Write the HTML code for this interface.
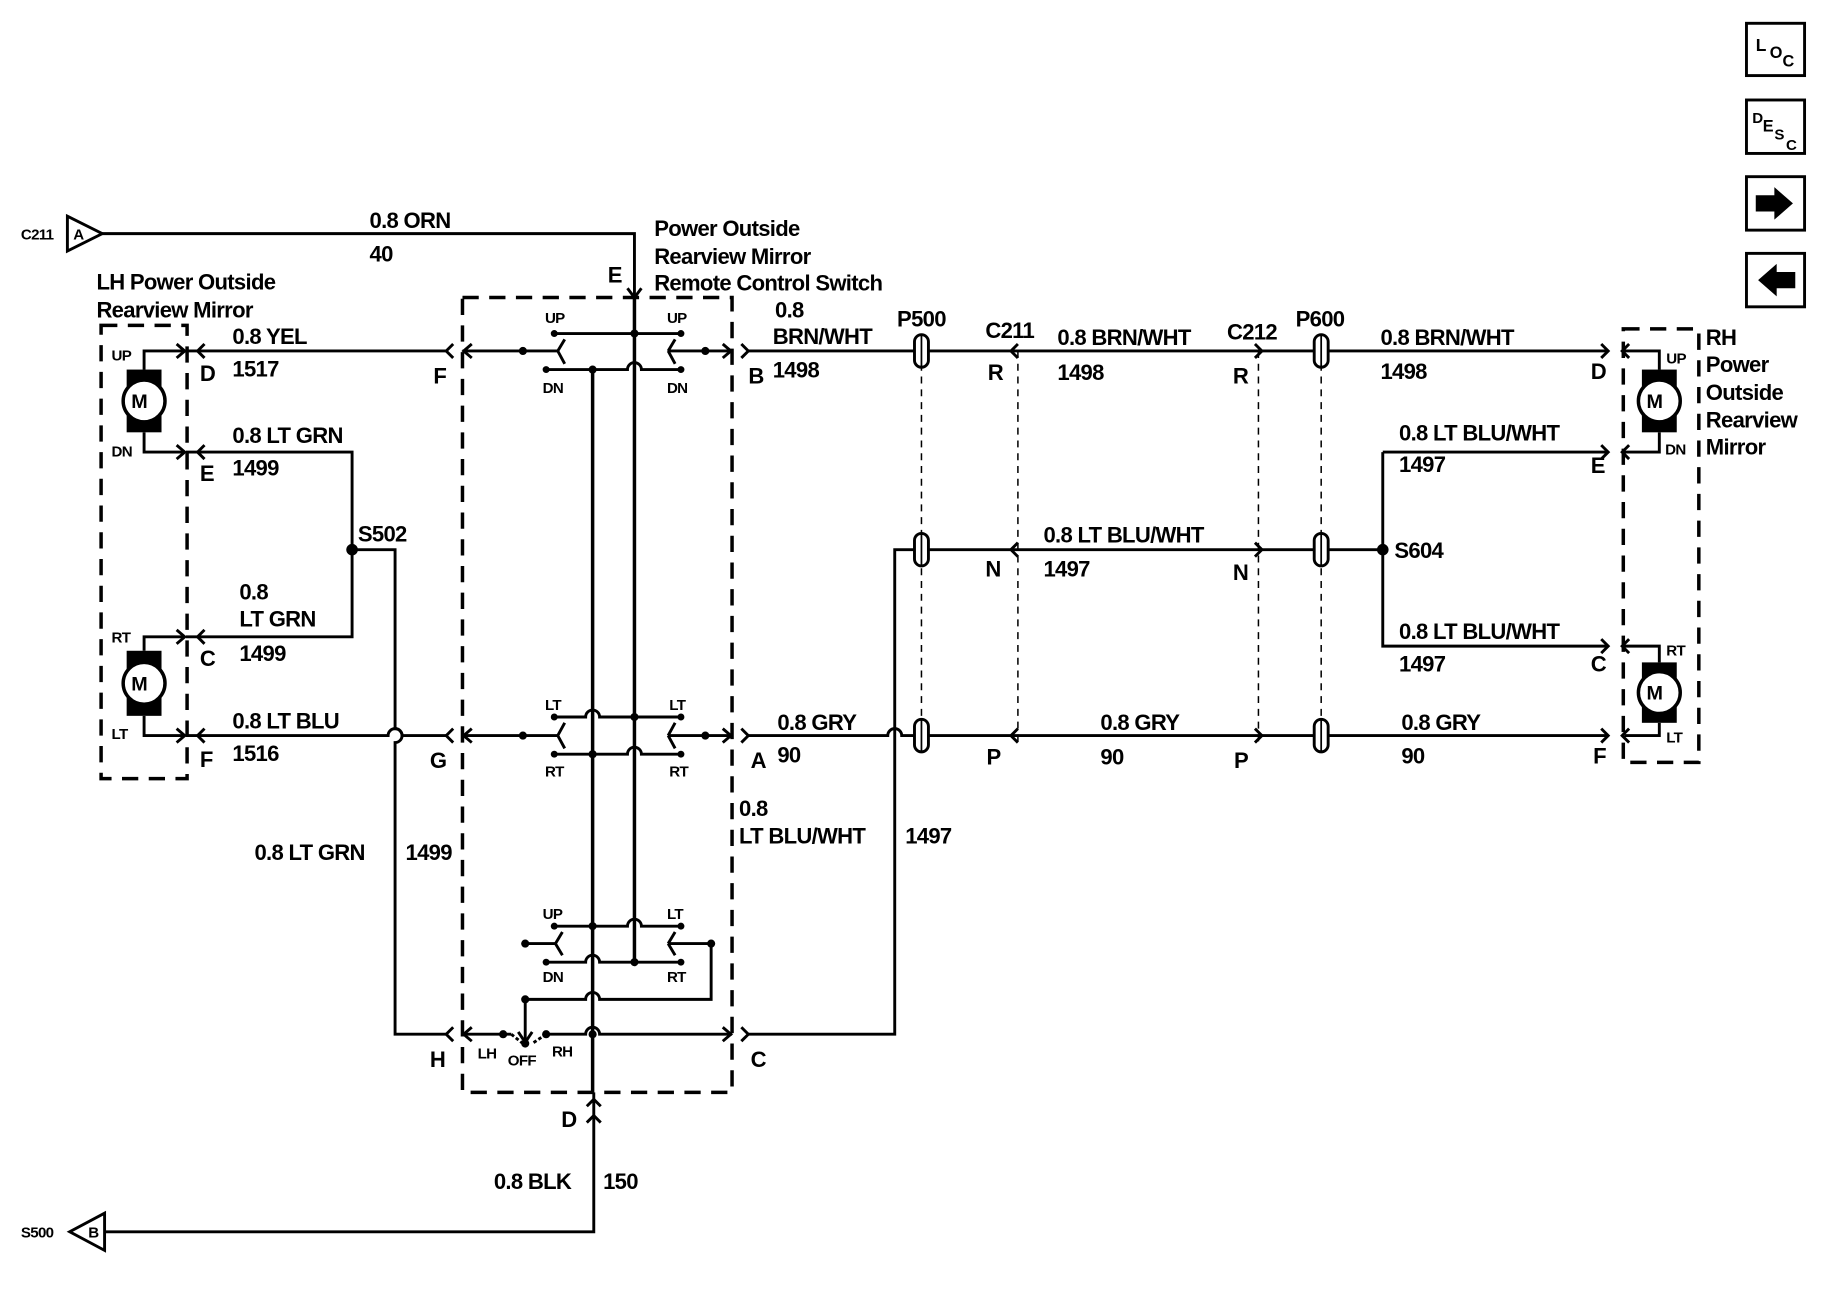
<!DOCTYPE html>
<html><head><meta charset="utf-8"><style>
html,body{margin:0;padding:0;background:#fff}
svg{display:block}
text{font-family:"Liberation Sans",sans-serif;font-weight:bold;fill:#000;letter-spacing:-0.6px}
.t{font-size:19px}.s{font-size:13px}
</style></head><body>
<svg width="1822" height="1312" viewBox="0 0 1568 1129" xmlns="http://www.w3.org/2000/svg">
<g fill="none" stroke="#000" stroke-width="2.5">
<rect x="1503" y="20" width="50" height="45"/><rect x="1503" y="86" width="50" height="46"/>
<rect x="1503" y="152" width="50" height="46"/><rect x="1503" y="218" width="50" height="46"/>
<g stroke-dasharray="14,9" stroke-width="3">
<rect x="398" y="256" width="232" height="684"/>
<rect x="87" y="280" width="74" height="390"/>
<rect x="1397" y="283" width="65" height="373"/>
</g>
<g stroke-dasharray="6,5" stroke-width="1.3">
<line x1="793" y1="302" x2="793" y2="640"/><line x1="876" y1="302" x2="876" y2="640"/>
<line x1="1083" y1="302" x2="1083" y2="640"/><line x1="1137" y1="302" x2="1137" y2="640"/>
</g>
<path d="M58 186 L88 201 L58 216 Z"/>
<path d="M88 201 H546 V256"/><path d="M540 248 L546 256 L552 248"/>
<path d="M90 1044 L60 1060 L90 1076 Z"/>
<path d="M90 1060 H511 V940"/><path d="M505 952 L511 946 L517 952"/>
<path d="M546 256 V828" stroke-width="3"/>
<path d="M510 318 V940" stroke-width="3"/>
<path d="M398 302 H480"/><path d="M575 302 H630"/>
<path d="M477 287 H586"/>
<path d="M470 318 H540 A6 6 0 0 1 552 318 H586"/>
<path d="M398 633 H480"/><path d="M575 633 H630"/>
<path d="M477 617 H504 A6 6 0 0 1 516 617 H586"/>
<path d="M477 649 H540 A6 6 0 0 1 552 649 H586"/>
<path d="M477 797 H540 A6 6 0 0 1 552 797 H586"/>
<path d="M470 828 H504 A6 6 0 0 1 516 828 H586"/>
<path d="M452 812 H478"/><path d="M575 812 H612 V860 H516 A6 6 0 0 0 504 860 H452 V895"/>
<path d="M398 890 H440"/><path d="M470 890 H504 A6 6 0 0 1 516 890 H630"/>
<path d="M446 888 L452 897 L458 888"/>
<path d="M480 302 L486 292 M480 302 L486 313 M575 302 L581 292 M575 302 L581 313"/>
<path d="M480 633 L486 622 M480 633 L486 644 M575 633 L581 622 M575 633 L581 644"/>
<path d="M478 812 L484 802 M478 812 L484 822 M575 812 L581 802 M575 812 L581 822"/>
<path d="M440 890 L450 898 M470 890 L458 898" stroke-dasharray="3,2"/>
<path d="M406 296 L399 302 L406 308 M390 296 L384 302 L390 308"/>
<path d="M622 296 L629 302 L622 308 M638 296 L644 302 L638 308"/>
<path d="M406 627 L399 633 L406 639 M390 627 L384 633 L390 639"/>
<path d="M622 627 L629 633 L622 639 M638 627 L644 633 L638 639"/>
<path d="M406 884 L399 890 L406 896 M390 884 L384 890 L390 896"/>
<path d="M622 884 L629 890 L622 896 M638 884 L644 890 L638 896"/>
<path d="M505 966 L511 960 L517 966"/>
<path d="M160 302 H384"/><path d="M160 389 H303 V548 H160"/>
<path d="M303 473 H340 V627 A6 6 0 0 1 340 639 V890 H384"/>
<path d="M160 633 H334 A6 6 0 0 1 346 633 H384"/>
<path d="M152 296 L159 302 L152 308 M176 296 L170 302 L176 308"/>
<path d="M152 383 L159 389 L152 395 M176 383 L170 389 L176 395"/>
<path d="M152 542 L159 548 L152 554 M176 542 L170 548 L176 554"/>
<path d="M152 627 L159 633 L152 639 M176 627 L170 633 L176 639"/>
<path d="M124 318 V302 H159 M124 372 V389 H159 M124 560 V548 H159 M124 616 V633 H159"/>
<path d="M644 302 H1384"/>
<path d="M644 890 H770 V473 H1190"/>
<path d="M644 633 H764 A6 6 0 0 1 776 633 H1384"/>
<path d="M1190 389 V556 H1384 M1190 389 H1384"/>
<path d="M1378 296 L1384 302 L1378 308 M1402 296 L1396 302 L1402 308"/>
<path d="M1378 383 L1384 389 L1378 395 M1402 383 L1396 389 L1402 395"/>
<path d="M1378 550 L1384 556 L1378 562 M1402 550 L1396 556 L1402 562"/>
<path d="M1378 627 L1384 633 L1378 639 M1402 627 L1396 633 L1402 639"/>
<path d="M1398 302 H1428 V318 M1398 389 H1428 V372 M1398 556 H1428 V570 M1398 633 H1428 V622"/>
<path d="M876 296 L870 302 L876 308 M876 467 L870 473 L876 479 M876 627 L870 633 L876 639"/>
<path d="M1080 296 L1086 302 L1080 308 M1080 467 L1086 473 L1080 479 M1080 627 L1086 633 L1080 639"/>
</g>
<g fill="#fff" stroke="#000" stroke-width="2.5">
<rect x="787" y="288" width="12" height="28" rx="6"/><rect x="787" y="459" width="12" height="28" rx="6"/><rect x="787" y="619" width="12" height="28" rx="6"/>
<rect x="1131" y="288" width="12" height="28" rx="6"/><rect x="1131" y="459" width="12" height="28" rx="6"/><rect x="1131" y="619" width="12" height="28" rx="6"/>
</g>
<g stroke="#000" stroke-width="1.5"><path d="M793 288V316M793 459V487M793 619V647M1137 288V316M1137 459V487M1137 619V647"/></g>
<g>
<rect x="109" y="318" width="30" height="54"/><circle cx="124" cy="345" r="18" fill="#fff" stroke="#000" stroke-width="3"/>
<rect x="109" y="560" width="30" height="56"/><circle cx="124" cy="588" r="18" fill="#fff" stroke="#000" stroke-width="3"/>
<rect x="1413" y="318" width="30" height="54"/><circle cx="1428" cy="345" r="18" fill="#fff" stroke="#000" stroke-width="3"/>
<rect x="1413" y="570" width="30" height="52"/><circle cx="1428" cy="596" r="18" fill="#fff" stroke="#000" stroke-width="3"/>
</g>
<g fill="#000">
<circle cx="303" cy="473" r="5"/><circle cx="1190" cy="473" r="5"/>
<circle cx="450" cy="302" r="3.5"/><circle cx="607" cy="302" r="3.5"/><circle cx="546" cy="287" r="3.5"/><circle cx="510" cy="318" r="3.5"/>
<circle cx="477" cy="287" r="3"/><circle cx="586" cy="287" r="3"/><circle cx="470" cy="318" r="3"/><circle cx="586" cy="318" r="3"/>
<circle cx="450" cy="633" r="3.5"/><circle cx="607" cy="633" r="3.5"/><circle cx="546" cy="617" r="3.5"/><circle cx="510" cy="649" r="3.5"/>
<circle cx="477" cy="617" r="3"/><circle cx="586" cy="617" r="3"/><circle cx="477" cy="649" r="3"/><circle cx="586" cy="649" r="3"/>
<circle cx="510" cy="797" r="3.5"/><circle cx="546" cy="828" r="3.5"/><circle cx="477" cy="797" r="3"/><circle cx="586" cy="797" r="3"/>
<circle cx="470" cy="828" r="3"/><circle cx="586" cy="828" r="3"/><circle cx="452" cy="812" r="3.5"/><circle cx="612" cy="812" r="3.5"/><circle cx="452" cy="860" r="3.5"/>
<circle cx="433" cy="890" r="3.5"/><circle cx="470" cy="890" r="3.5"/><circle cx="452" cy="898" r="3.5"/><circle cx="510" cy="890" r="3.5"/>
<path d="M1511 168 H1527 V161 L1543 175 L1527 189 V182 H1511 Z"/>
<path d="M1545 234 H1529 V227 L1513 241 L1529 255 V248 H1545 Z"/>
</g>
<text x="1511" y="44" style="font-size:15px">L</text><text x="1523" y="50" style="font-size:14px">O</text><text x="1534" y="57" style="font-size:14px">C</text>
<text x="1508" y="106" style="font-size:13px">D</text><text x="1517" y="113" style="font-size:14px">E</text><text x="1527" y="120" style="font-size:13px">S</text><text x="1537" y="129" style="font-size:13px">C</text>
<text class="s" x="18" y="206">C211</text><text class="s" x="63" y="206">A</text>
<text class="s" x="18" y="1065">S500</text><text class="s" x="76" y="1065">B</text>
<text class="t" x="318" y="196">0.8 ORN</text><text class="t" x="318" y="225">40</text>
<text class="t" x="563" y="203">Power Outside</text><text class="t" x="563" y="227">Rearview Mirror</text><text class="t" x="563" y="250">Remote Control Switch</text>
<text class="t" x="523" y="243">E</text>
<text class="t" x="83" y="249">LH Power Outside</text><text class="t" x="83" y="273">Rearview Mirror</text>
<text class="s" x="96" y="310">UP</text><text class="s" x="96" y="393">DN</text><text class="s" x="96" y="553">RT</text><text class="s" x="96" y="636">LT</text>
<text class="t" x="113" y="351" style="font-size:17px">M</text><text class="t" x="113" y="594" style="font-size:17px">M</text>
<text class="t" x="1417" y="351" style="font-size:17px">M</text><text class="t" x="1417" y="602" style="font-size:17px">M</text>
<text class="t" x="172" y="328">D</text><text class="t" x="172" y="414">E</text><text class="t" x="172" y="573">C</text><text class="t" x="172" y="660">F</text>
<text class="t" x="200" y="296">0.8 YEL</text><text class="t" x="200" y="324">1517</text>
<text class="t" x="200" y="381">0.8 LT GRN</text><text class="t" x="200" y="409">1499</text>
<text class="t" x="206" y="516">0.8</text><text class="t" x="206" y="539">LT GRN</text><text class="t" x="206" y="569">1499</text>
<text class="t" x="200" y="627">0.8 LT BLU</text><text class="t" x="200" y="655">1516</text>
<text class="t" x="308" y="466">S502</text>
<text class="t" x="373" y="330">F</text><text class="t" x="370" y="661">G</text><text class="t" x="370" y="918">H</text>
<text class="t" x="219" y="740">0.8 LT GRN</text><text class="t" x="349" y="740">1499</text>
<text class="s" x="469" y="278">UP</text><text class="s" x="574" y="278">UP</text><text class="s" x="467" y="338">DN</text><text class="s" x="574" y="338">DN</text>
<text class="s" x="469" y="611">LT</text><text class="s" x="576" y="611">LT</text><text class="s" x="469" y="668">RT</text><text class="s" x="576" y="668">RT</text>
<text class="s" x="467" y="791">UP</text><text class="s" x="574" y="791">LT</text><text class="s" x="467" y="845">DN</text><text class="s" x="574" y="845">RT</text>
<text class="s" x="411" y="911">LH</text><text class="s" x="437" y="917">OFF</text><text class="s" x="475" y="909">RH</text>
<text class="t" x="483" y="970">D</text>
<text class="t" x="425" y="1023">0.8 BLK</text><text class="t" x="519" y="1023">150</text>
<text class="t" x="644" y="330">B</text><text class="t" x="646" y="661">A</text><text class="t" x="646" y="918">C</text>
<text class="t" x="667" y="273">0.8</text><text class="t" x="665" y="296">BRN/WHT</text><text class="t" x="665" y="325">1498</text>
<text class="t" x="772" y="281">P500</text><text class="t" x="848" y="291">C211</text><text class="t" x="1056" y="292">C212</text><text class="t" x="1115" y="281">P600</text>
<text class="t" x="850" y="327">R</text><text class="t" x="1061" y="330">R</text>
<text class="t" x="848" y="496">N</text><text class="t" x="1061" y="499">N</text>
<text class="t" x="849" y="658">P</text><text class="t" x="1062" y="661">P</text>
<text class="t" x="910" y="297">0.8 BRN/WHT</text><text class="t" x="910" y="327">1498</text>
<text class="t" x="898" y="467">0.8 LT BLU/WHT</text><text class="t" x="898" y="496">1497</text>
<text class="t" x="947" y="628">0.8 GRY</text><text class="t" x="947" y="658">90</text>
<text class="t" x="669" y="628">0.8 GRY</text><text class="t" x="669" y="656">90</text>
<text class="t" x="636" y="702">0.8</text><text class="t" x="636" y="726">LT BLU/WHT</text><text class="t" x="779" y="726">1497</text>
<text class="t" x="1188" y="297">0.8 BRN/WHT</text><text class="t" x="1188" y="326">1498</text>
<text class="t" x="1204" y="379">0.8 LT BLU/WHT</text><text class="t" x="1204" y="406">1497</text>
<text class="t" x="1200" y="480">S604</text>
<text class="t" x="1204" y="550">0.8 LT BLU/WHT</text><text class="t" x="1204" y="578">1497</text>
<text class="t" x="1206" y="628">0.8 GRY</text><text class="t" x="1206" y="657">90</text>
<text class="t" x="1369" y="326">D</text><text class="t" x="1369" y="407">E</text><text class="t" x="1369" y="578">C</text><text class="t" x="1371" y="657">F</text>
<text class="s" x="1434" y="313">UP</text><text class="s" x="1433" y="391">DN</text><text class="s" x="1434" y="564">RT</text><text class="s" x="1434" y="639">LT</text>
<text class="t" x="1468" y="297">RH</text><text class="t" x="1468" y="320">Power</text><text class="t" x="1468" y="344">Outside</text><text class="t" x="1468" y="368">Rearview</text><text class="t" x="1468" y="391">Mirror</text>
</svg>
</body></html>
